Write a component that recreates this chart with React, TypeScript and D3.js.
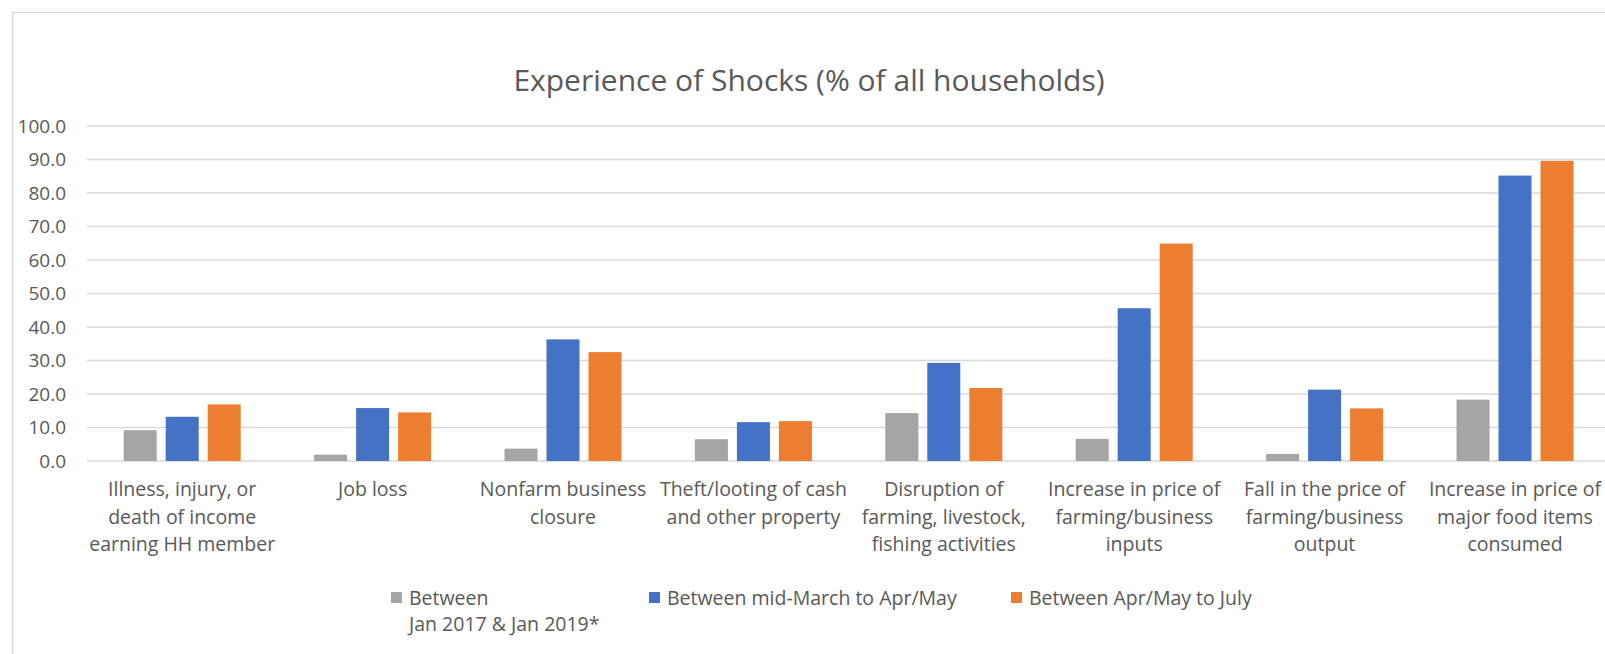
import React, { useEffect, useRef } from 'react';
import * as d3 from 'd3';

const categories: string[][] = [
  ['Illness, injury, or', 'death of income', 'earning HH member'],
  ['Job loss'],
  ['Nonfarm business', 'closure'],
  ['Theft/looting of cash', 'and other property'],
  ['Disruption of', 'farming, livestock,', 'fishing activities'],
  ['Increase in price of', 'farming/business', 'inputs'],
  ['Fall in the price of', 'farming/business', 'output'],
  ['Increase in price of', 'major food items', 'consumed'],
];

const seriesNames: string[][] = [
  ['Between', 'Jan 2017 & Jan 2019*'],
  ['Between mid-March to Apr/May'],
  ['Between Apr/May to July'],
];

const pre2019 = [9.2, 1.9, 3.7, 6.5, 14.3, 6.6, 2.1, 18.3];
const marchToMay = [13.2, 15.8, 36.3, 11.6, 29.3, 45.6, 21.3, 85.2];
const mayToJuly = [16.9, 14.5, 32.5, 11.9, 21.8, 64.9, 15.7, 89.6];

const yTicks = [0, 10, 20, 30, 40, 50, 60, 70, 80, 90, 100];
const colors = ['#A5A5A5', '#4472C4', '#ED7D31'];

const W = 1605;
const H = 654;
const FONT = '"Open Sans", "Noto Sans", sans-serif';

const App: React.FC = () => {
  const svgRef = useRef<SVGSVGElement>(null);

  useEffect(() => {
    if (!svgRef.current) return;
    const svg = d3.select(svgRef.current);
    svg.selectAll('*').remove();

    const series = [pre2019, marchToMay, mayToJuly];
    const catIdx = d3.range(categories.length).map(String);

    const x = d3.scaleBand<string>()
      .domain(catIdx)
      .range([87, 87 + 190.4 * categories.length])
      .padding(0);

    const xInner = d3.scaleBand<string>()
      .domain(['0', '1', '2'])
      .range([36.7, 153.7])
      .paddingInner(9 / 42)
      .paddingOuter(0);

    const y = d3.scaleLinear().domain([0, 100]).range([461, 126]);

    // chart frame
    svg.append('rect')
      .attr('x', 12.5).attr('y', 12.5)
      .attr('width', W + 20).attr('height', H + 20)
      .attr('fill', '#fff')
      .attr('stroke', '#d9d9d9')
      .attr('stroke-width', 1.5);

    // title
    svg.append('text')
      .attr('x', 809).attr('y', 91)
      .attr('text-anchor', 'middle')
      .style('font-family', FONT)
      .style('font-size', '30px')
      .style('fill', '#595959')
      .text('Experience of Shocks (% of all households)');

    // gridlines + y labels
    const yAxis = svg.append('g');
    yAxis.selectAll('line')
      .data(yTicks)
      .enter().append('line')
      .attr('x1', 87).attr('x2', W)
      .attr('y1', d => y(d)).attr('y2', d => y(d))
      .attr('stroke', '#d9d9d9')
      .attr('stroke-width', 1.3);

    yAxis.selectAll('text')
      .data(yTicks)
      .enter().append('text')
      .attr('x', 66)
      .attr('y', d => y(d))
      .attr('dy', '0.36em')
      .attr('text-anchor', 'end')
      .style('font-family', FONT)
      .style('font-size', '19px')
      .style('fill', '#595959')
      .text(d => d.toFixed(1));

    // bars
    series.forEach((vals, si) => {
      svg.append('g')
        .selectAll('rect')
        .data(vals)
        .enter().append('rect')
        .attr('x', (d, i) => (x(String(i)) as number) + (xInner(String(si)) as number))
        .attr('width', xInner.bandwidth())
        .attr('y', d => y(d))
        .attr('height', d => y(0) - y(d))
        .attr('fill', colors[si]);
    });

    // category labels
    const labels = svg.append('g');
    categories.forEach((lines, i) => {
      const cx = (x(String(i)) as number) + x.bandwidth() / 2;
      const t = labels.append('text')
        .attr('text-anchor', 'middle')
        .style('font-family', FONT)
        .style('font-size', '19.5px')
        .style('fill', '#595959');
      lines.forEach((ln, j) => {
        t.append('tspan')
          .attr('x', cx)
          .attr('y', 489 + j * 27.5)
          .attr('dy', '0.36em')
          .text(ln);
      });
    });

    // legend
    const legendX = [391, 649, 1011];
    const legend = svg.append('g');
    seriesNames.forEach((lines, si) => {
      legend.append('rect')
        .attr('x', legendX[si]).attr('y', 592)
        .attr('width', 11).attr('height', 11)
        .attr('fill', colors[si]);
      const t = legend.append('text')
        .style('font-family', FONT)
        .style('font-size', '19.5px')
        .style('fill', '#595959');
      lines.forEach((ln, j) => {
        t.append('tspan')
          .attr('x', legendX[si] + 18)
          .attr('y', 598 + j * 26)
          .attr('dy', '0.36em')
          .text(ln);
      });
    });
  }, []);

  return (
    <svg
      ref={svgRef}
      width={W}
      height={H}
      style={{ position: 'absolute', left: 0, top: 0, background: '#fff', display: 'block' }}
    />
  );
};

export default App;
